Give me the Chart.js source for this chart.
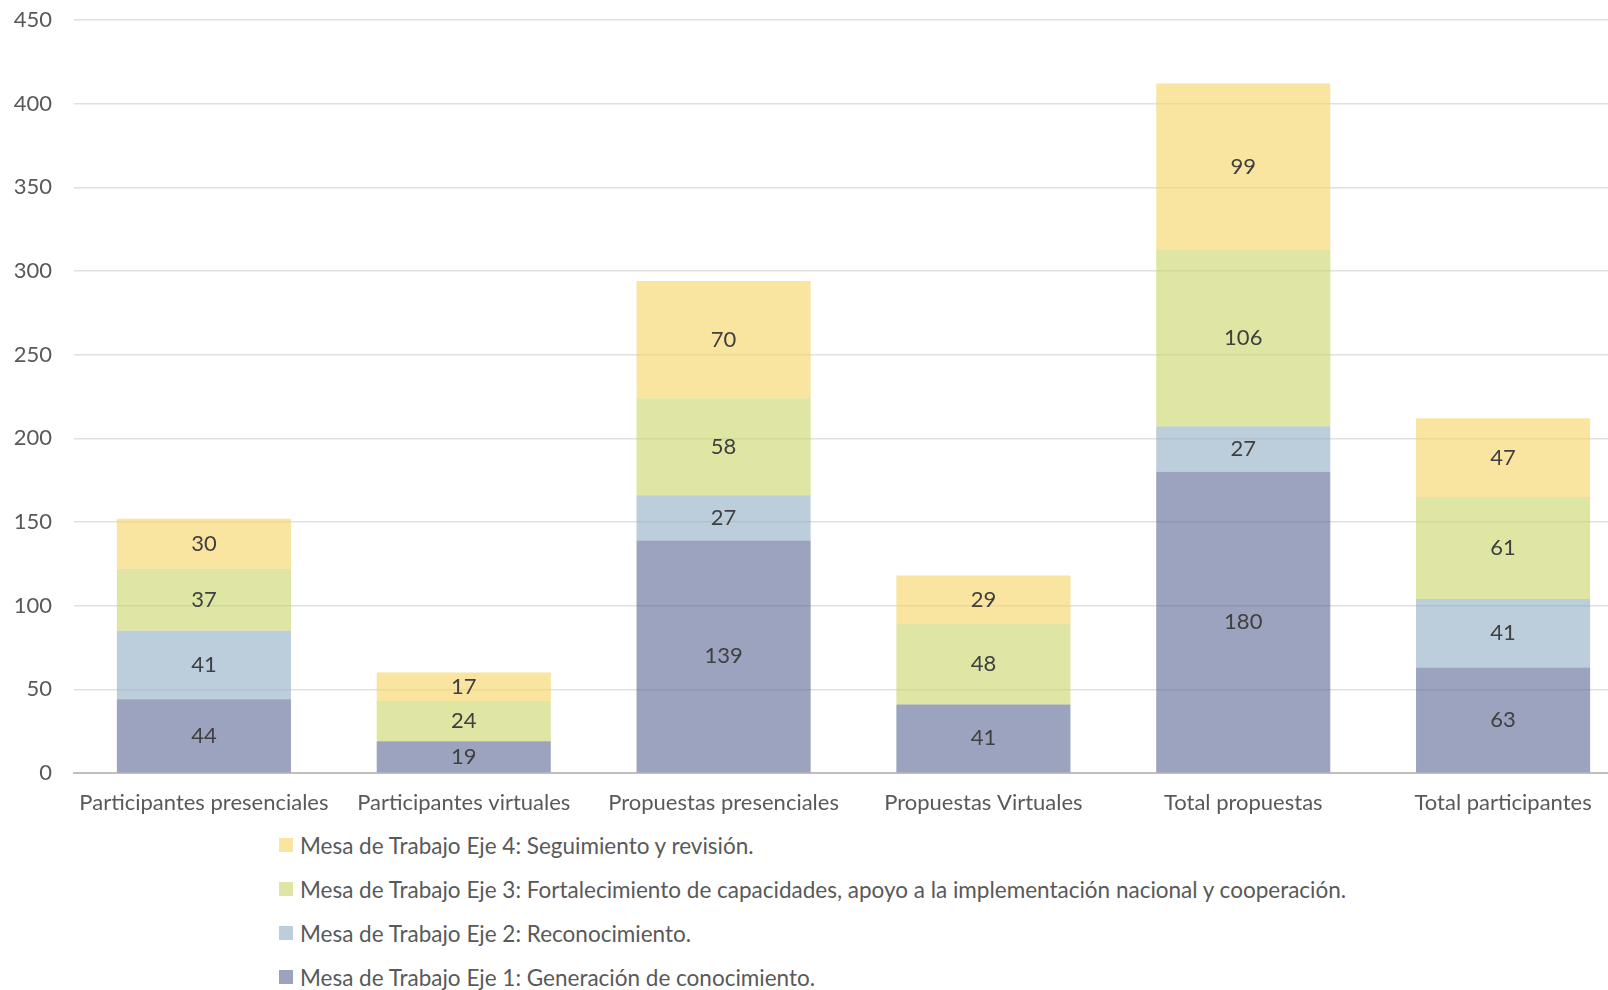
<!DOCTYPE html>
<html>
<head>
<meta charset="utf-8">
<script src="https://cdn.jsdelivr.net/npm/chart.js@4"></script>
<style>
  html, body { margin: 0; background: #fff; font-family: Lato, sans-serif; overflow: hidden; }
  #wrap { position: relative; width: 1640px; height: 818px; }
  #legend { margin: 5px 0 0 279px; }
  .item { display: flex; align-items: center; height: 44px; font-size: 22.5px; color: #595959; }
  .box { width: 14px; height: 14px; margin-right: 7px; }
</style>
</head>
<body>
<div id="wrap"><canvas id="chart"></canvas></div>
<div id="legend"></div>
<script>
const categories = ["Participantes presenciales", "Participantes virtuales", "Propuestas presenciales", "Propuestas Virtuales", "Total propuestas", "Total participantes"];
const seriesNames = [
    "Mesa de Trabajo Eje 1: Generación de conocimiento.",
    "Mesa de Trabajo Eje 2: Reconocimiento.",
    "Mesa de Trabajo Eje 3: Fortalecimiento de capacidades, apoyo a la implementación nacional y cooperación.",
    "Mesa de Trabajo Eje 4: Seguimiento y revisión."
];
const eje1 = [44, 19, 139, 41, 180, 63];
const eje2 = [41, 0, 27, 0, 27, 41];
const eje3 = [37, 24, 58, 48, 106, 61];
const eje4 = [30, 17, 70, 29, 99, 47];
const yTicks = [0, 50, 100, 150, 200, 250, 300, 350, 400, 450];

const colors = ['rgba(90,102,148,0.6)', 'rgba(143,172,197,0.6)', 'rgba(202,212,102,0.6)', 'rgba(245,210,97,0.6)'];
const legendColors = ['#9ca3bf', '#bccddc', '#dfe5a3', '#f9e4a0'];

// labels centred inside each segment
const segmentLabels = {
    id: 'segmentLabels',
    afterDatasetsDraw(chart) {
        const ctx = chart.ctx;
        ctx.save();
        ctx.font = '22px Lato, sans-serif';
        ctx.fillStyle = '#404040';
        ctx.textAlign = 'center';
        ctx.textBaseline = 'middle';
        chart.data.datasets.forEach((ds, i) => {
            chart.getDatasetMeta(i).data.forEach((bar, j) => {
                const v = ds.data[j];
                if (!v) return;
                ctx.fillText(String(v), bar.x, (bar.y + bar.base) / 2);
            });
        });
        ctx.restore();
    }
};

const datasets = [eje1, eje2, eje3, eje4].map((d, i) => ({
    label: seriesNames[i],
    data: d,
    backgroundColor: colors[i],
    borderWidth: 0,
    barPercentage: 0.67,
    categoryPercentage: 1
}));

new Chart(document.getElementById('chart'), {
    type: 'bar',
    data: { labels: categories, datasets: datasets },
    plugins: [segmentLabels],
    options: {
        responsive: true,
        maintainAspectRatio: false,
        animation: false,
        layout: { padding: { top: 20, left: 0, right: 7, bottom: 0 } },
        scales: {
            x: {
                stacked: true,
                grid: { display: false, drawTicks: false },
                border: { color: '#bfbfbf', width: 2 },
                ticks: { color: '#595959', font: { family: 'Lato', size: 22 }, padding: 17, maxRotation: 0 },
                afterFit: axis => { axis.height = 45; axis.paddingLeft = 0; axis.paddingRight = 0; }
            },
            y: {
                stacked: true,
                min: 0,
                max: 450,
                afterBuildTicks: axis => { axis.ticks = yTicks.map(v => ({ value: v })); },
                grid: { color: '#e0e0e0', lineWidth: 1.5, drawTicks: false },
                border: { display: false },
                ticks: { color: '#595959', font: { family: 'Lato', size: 22 }, padding: 22 },
                afterFit: axis => { axis.width = 74; axis.paddingTop = 0; axis.paddingBottom = 0; }
            }
        },
        plugins: {
            legend: { display: false },
            tooltip: { enabled: false }
        }
    }
});

// legend listed in reverse order, one item per row
const legend = document.getElementById('legend');
for (let i = seriesNames.length - 1; i >= 0; i--) {
    const row = document.createElement('div');
    row.className = 'item';
    row.innerHTML = `<span class="box" style="background:${legendColors[i]}"></span>${seriesNames[i]}`;
    legend.appendChild(row);
}
</script>
</body>
</html>
